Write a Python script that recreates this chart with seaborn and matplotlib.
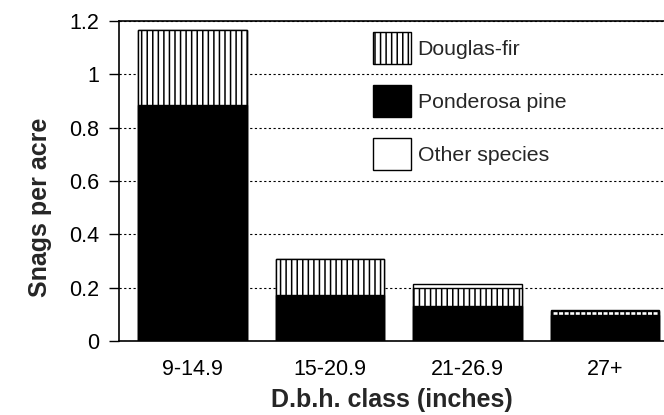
import matplotlib
matplotlib.use("Agg")
import matplotlib.pyplot as plt
import seaborn as sns
import pandas as pd
import numpy as np
from matplotlib.patches import Patch
from matplotlib.ticker import FuncFormatter

classes = ["9-14.9", "15-20.9", "21-26.9", "27+"]
ponderosa = [0.885, 0.172, 0.130, 0.096]
douglas = [0.280, 0.137, 0.067, 0.015]
other = [0.000, 0.000, 0.015, 0.005]
yticks = [0, 0.2, 0.4, 0.6, 0.8, 1.0, 1.2]

sns.set_style("ticks")
plt.rcParams["font.family"] = ["Liberation Sans", "DejaVu Sans"]
plt.rcParams["hatch.linewidth"] = 1.1

df = pd.DataFrame({
    "cls": classes,
    "pp": ponderosa,
    "df": np.array(ponderosa) + np.array(douglas),
    "all": np.array(ponderosa) + np.array(douglas) + np.array(other),
})

fig = plt.figure(figsize=(6.64, 4.15), dpi=100)
ax = fig.add_axes([119/664, 1-341/415, 1-119/664, (341-21)/415])

w = 0.79
sns.barplot(data=df, x="cls", y="all", order=classes, color="white",
            edgecolor="black", linewidth=1.0, width=w, ax=ax, zorder=2)
sns.barplot(data=df, x="cls", y="df", order=classes, color="white",
            edgecolor="black", linewidth=1.0, width=w, hatch="|||", ax=ax, zorder=3)
sns.barplot(data=df, x="cls", y="pp", order=classes, color="black",
            edgecolor="black", linewidth=1.0, width=w, ax=ax, zorder=4)

ax.set_xlim(-0.535, 3.43)
ax.set_ylim(0, 1.2)
ax.set_yticks(yticks)
ax.yaxis.set_major_formatter(FuncFormatter(lambda v, p: f"{v:g}"))
ax.yaxis.grid(True, linestyle=(0, (2, 2.2)), color="black", linewidth=0.8)
ax.set_axisbelow(True)

ax.tick_params(axis="y", length=7, width=1, direction="out", labelsize=15.5, colors="black", pad=7)
ax.tick_params(axis="x", length=0, labelsize=15.5, colors="black", pad=13)

for s in ["left", "bottom", "top"]:
    ax.spines[s].set_visible(True)
    ax.spines[s].set_color("black")
    ax.spines[s].set_linewidth(1.2)
ax.spines["right"].set_visible(False)

ax.set_xlabel("D.b.h. class (inches)", fontsize=18, fontweight="bold", labelpad=5.5)
ax.set_ylabel("Snags per acre", fontsize=18, fontweight="bold")
ax.yaxis.set_label_coords(52/664, 0.5, transform=fig.transFigure)

handles = [
    Patch(facecolor="white", edgecolor="black", hatch="|||", label="Douglas-fir"),
    Patch(facecolor="black", edgecolor="black", label="Ponderosa pine"),
    Patch(facecolor="white", edgecolor="black", label="Other species"),
]
ax.legend(handles=handles, loc="upper left", bbox_to_anchor=(373/664, 1-32/415),
          bbox_transform=fig.transFigure, frameon=False, fontsize=15.3,
          handlelength=1.8, handleheight=1.95, labelspacing=0.98,
          handletextpad=0.3, borderpad=0, borderaxespad=0)

fig.savefig("out.png", dpi=100)
